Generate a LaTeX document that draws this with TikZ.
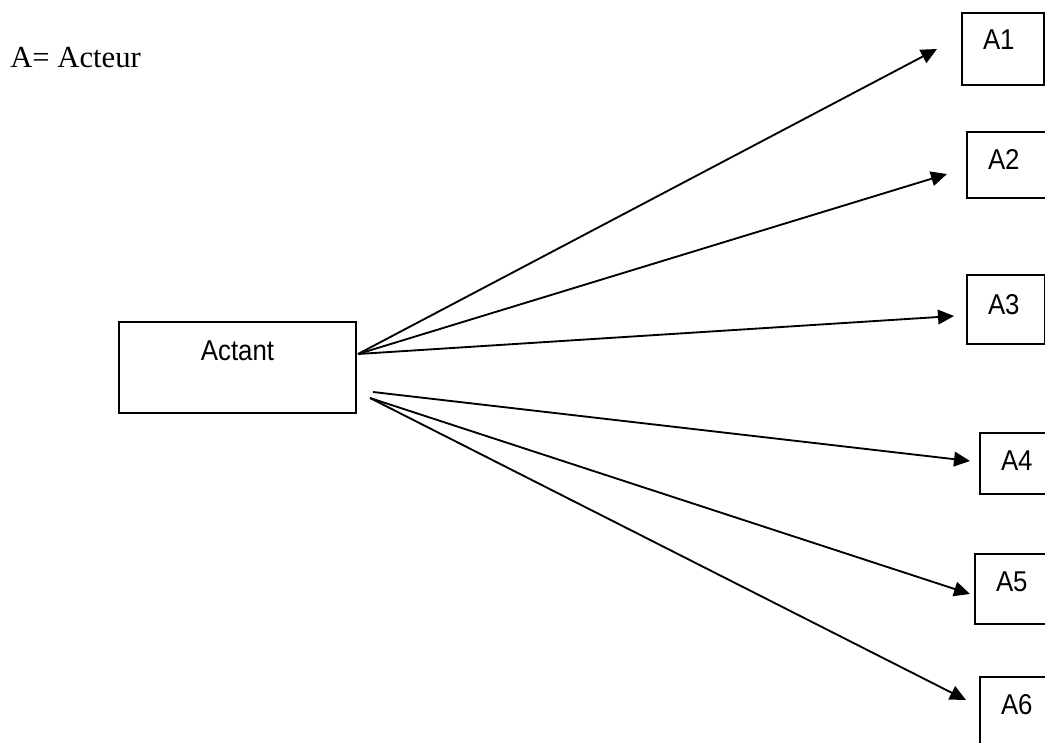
\documentclass[tikz,border=0pt]{standalone}
\usepackage{fontspec}
\setmainfont{Liberation Serif}
\newfontfamily\boxfont[FakeStretch=0.9]{Liberation Sans}
\usetikzlibrary{arrows.meta,calc}
\begin{document}
\begin{tikzpicture}[x=0.75pt,y=-0.75pt,
  boxline/.style={draw, line width=1.5pt},
  abox/.style 2 args={boxline, anchor=north west, inner ysep=0pt, inner xsep=15.75pt,
     text width=30pt, align=left, text height=#1, text depth=#2,
     font=\boxfont\fontsize{21.5}{25}\selectfont},
  conn/.style={line width=1.4pt, -{Triangle[length=12pt,width=11pt]}}]
\useasboundingbox (0,0) rectangle (1045,742);
\clip (0,0) rectangle (1045,742);
\fill[white] (0,0) rectangle (1045,742);

\node[anchor=base west, inner sep=0pt, font=\fontsize{23}{27}\selectfont] (legend) at (10,68) {A= Acteur};

\node[boxline, anchor=north, inner ysep=0pt, minimum width=177.75pt, text height=28.5pt, text depth=39.75pt,
      font=\boxfont\fontsize{21.5}{25}\selectfont] (actant) at (237.5,321) {Actant};

\node[abox={27.75pt}{26.25pt}] (a1) at (961,12) {A1};
\node[abox={27.75pt}{21.75pt}] (a2) at (966,131) {A2};
\node[abox={29.25pt}{22.5pt}, text width=27pt] (a3) at (966,274) {A3};
\node[abox={27.75pt}{18pt}] (a4) at (979,432) {A4};
\node[abox={27.75pt}{24.75pt}] (a5) at (974,553) {A5};
\node[abox={27.75pt}{30pt}] (a6) at (979,676) {A6};

\coordinate (s1) at ($(actant.north east)+(1,33)$);
\coordinate (s4) at (373,392);
\coordinate (s5) at (370,398);

\draw[conn] (s1) -- ($(a1.west)+(-24,0)$);
\draw[conn] (s1) -- ($(a2.west)+(-19,9)$);
\draw[conn] (s1) -- ($(a3.west)+(-12,6.5)$);
\draw[conn] (s4) -- ($(a4.west)+(-9,-2.5)$);
\draw[conn] (s5) -- ($(a5.west)+(-4,5)$);
\draw[conn] (s5) -- ($(a6.north west)+(-13,24)$);
\end{tikzpicture}
\end{document}
